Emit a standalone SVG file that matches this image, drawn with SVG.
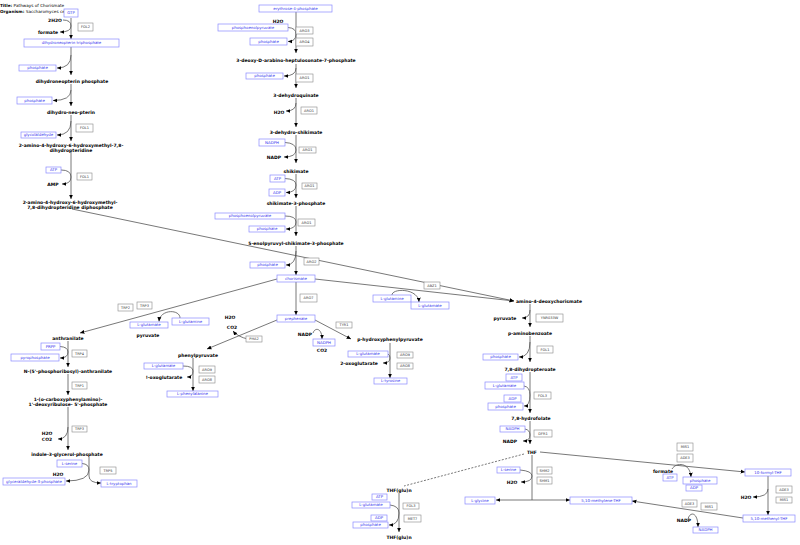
<svg xmlns="http://www.w3.org/2000/svg" width="800" height="545" viewBox="0 0 800 545">
<defs>
<marker id="a" viewBox="0 0 10 10" refX="10" refY="5" markerWidth="4.4" markerHeight="4.4" markerUnits="userSpaceOnUse" orient="auto"><path d="M0,0.5 L10,5 L0,9.5 z" fill="#000"/></marker>
<style>
.l{fill:none;stroke:#555;stroke-width:0.8;marker-end:url(#a)}
.n{fill:none;stroke:#555;stroke-width:0.8}
.d{fill:none;stroke:#555;stroke-width:0.8;stroke-dasharray:2,1.5}
.bx{fill:#fff;stroke:#8a8aff;stroke-width:0.7}
.bt{font-family:"DejaVu Sans",sans-serif;font-size:3.9px;fill:#3333ee;text-anchor:middle}
.ex{fill:#fff;stroke:#888;stroke-width:0.6}
.et{font-family:"DejaVu Sans",sans-serif;font-size:3.5px;fill:#333;text-anchor:middle}
.c{font-family:"DejaVu Sans",sans-serif;font-size:4.5px;font-weight:bold;fill:#000;text-anchor:middle}
.t{font-family:"DejaVu Sans",sans-serif;font-size:4.2px;fill:#000}
</style>
</defs>
<rect width="800" height="545" fill="#fff"/>
<g id="title">
<text class="t" x="0" y="6.5"><tspan font-weight="bold">Title:</tspan>   Pathways of Chorismate</text>
<text class="t" x="0" y="13"><tspan font-weight="bold">Organism:</tspan>   Saccharomyces ce</text>
</g>
<g id="connectors">
<path class="l" d="M71,18 V39"/>
<path class="l" d="M63,20 Q71,20 71,26 Q71,32 60,32"/>
<path class="l" d="M71,47 V75"/>
<path class="l" d="M71,55 Q71,68 57,68"/>
<path class="l" d="M71,84 V106"/>
<path class="l" d="M71,90 Q71,100.5 53,100.5"/>
<path class="l" d="M71,115 V141"/>
<path class="l" d="M71,121 Q71,135 57,135"/>
<path class="l" d="M71,152 V199"/>
<path class="l" d="M61,170 Q71,170 71,177 Q71,184 62,184"/>
<path class="l" d="M72,209 L514,301"/>
<path class="l" d="M296,12 V53"/>
<path class="l" d="M288,27.5 Q296,28 296,34 Q296,41.5 288,41.5"/>
<path class="l" d="M296,64 V88"/>
<path class="l" d="M296,68 Q296,76 284,76"/>
<path class="l" d="M296,98 V127"/>
<path class="l" d="M296,103 Q296,111 286,111"/>
<path class="l" d="M296,135 V163"/>
<path class="l" d="M285,142.5 Q296,143 296,150 Q296,157 284,157"/>
<path class="l" d="M296,174 V198"/>
<path class="l" d="M285,178.5 Q296,179 296,185 Q296,192.5 286,192.5"/>
<path class="l" d="M296,206 V236"/>
<path class="l" d="M285,216 Q296,216 296,222 Q296,229 286,229"/>
<path class="l" d="M296,246 V275"/>
<path class="l" d="M296,251 Q296,265 286,265"/>
<path class="l" d="M277,279 L80,333"/>
<path class="l" d="M315,279 L514,301"/>
<path class="l" d="M180,318 C180,309 160,309 159,321.5"/>
<path class="l" d="M296,282 V315"/>
<path class="l" d="M277,320 L207,349"/>
<path class="l" d="M248,339 Q238,337 233,331"/>
<path class="l" d="M315,320 L351,339"/>
<path class="l" d="M313,333 C315,327 322,328 322,339"/>
<path class="l" d="M193,358 V391"/>
<path class="l" d="M183,366 Q193,366 193,371 Q193,377 187,377"/>
<path class="l" d="M390,343 V378"/>
<path class="l" d="M388,354 Q390,355 390,358 Q390,363 383,363"/>
<path class="l" d="M392,295 C392,288 418,288 419,302"/>
<path class="l" d="M68,341 V367"/>
<path class="l" d="M60,346.5 Q68,347 68,352 Q68,358 60,358"/>
<path class="l" d="M68,374 V395"/>
<path class="l" d="M68,407 V450"/>
<path class="l" d="M68,427 Q68,439 58,439"/>
<path class="l" d="M89,457 V476 Q89,483 101,483"/>
<path class="l" d="M82,463.5 Q89,464 89,470 Q89,481 66,481"/>
<path class="l" d="M530,304 V327"/>
<path class="l" d="M530,310 Q530,318 522,318"/>
<path class="l" d="M530,336 V362"/>
<path class="l" d="M530,342 Q530,357 519,357"/>
<path class="l" d="M530,372 V413"/>
<path class="l" d="M524,386 Q530,387 530,395 Q530,406 524,406"/>
<path class="l" d="M530,421 V444"/>
<path class="l" d="M525,429 Q530,430 530,435 Q530,441 523,441"/>
<path class="n" d="M532,455 V500"/>
<path class="l" d="M532,500 H496"/>
<path class="l" d="M532,500 H570"/>
<path class="l" d="M520,470 Q532,471 532,476 Q532,482 521,482"/>
<path class="d" d="M524,454 L404,486"/>
<path class="l" d="M399,493 V532"/>
<path class="l" d="M390,505 Q399,506 399,513 Q399,525 389,525"/>
<path class="l" d="M540,452 L745,472"/>
<path class="l" d="M672,469 C676,462 690,462 691,477"/>
<path class="l" d="M768,476 V515"/>
<path class="l" d="M768,489 Q768,497 753,497"/>
<path class="l" d="M743,518 L632,501"/>
<path class="l" d="M688,519 C690,511 698,512 698,527"/>
</g>
<g id="n-GTP"><rect class="bx" x="64" y="9" width="14" height="8"/><text class="bt" x="71" y="14.4">GTP</text></g>
<g id="n-2H2O"><text class="c" x="55" y="21.5">2H2O</text></g>
<g id="e-FOL2"><rect class="ex" x="78" y="23" width="15" height="8"/><text class="et" x="85.5" y="28.2">FOL2</text></g>
<g id="n-formate1"><text class="c" x="48" y="33.5">formate</text></g>
<g id="n-dntp"><rect class="bx" x="24" y="39" width="95" height="8"/><text class="bt" x="71.5" y="44.4">dihydroneopterin triphosphate</text></g>
<g id="n-phosphate1"><rect class="bx" x="19" y="65" width="37" height="6"/><text class="bt" x="37.5" y="69.4">phosphate</text></g>
<g id="n-dnp"><text class="c" x="72" y="82.5">dihydroneopterin phosphate</text></g>
<g id="n-phosphate2"><rect class="bx" x="17" y="97" width="35" height="7"/><text class="bt" x="34.5" y="101.9">phosphate</text></g>
<g id="n-dhnp"><text class="c" x="71" y="113.5">dihydro-neo-pterin</text></g>
<g id="e-FOL1a"><rect class="ex" x="76" y="124" width="17" height="8"/><text class="et" x="84.5" y="129.2">FOL1</text></g>
<g id="n-glycolaldehyde"><rect class="bx" x="21" y="132" width="35" height="6"/><text class="bt" x="38.5" y="136.4">glycolaldehyde</text></g>
<g id="n-ahhd"><text class="c" x="71" y="146.5">2-amino-4-hydroxy-6-hydroxymethyl-7,8-</text><text class="c" x="71" y="151.5">dihydropteridine</text></g>
<g id="n-ATP1"><rect class="bx" x="46" y="167" width="15" height="6"/><text class="bt" x="53.5" y="171.4">ATP</text></g>
<g id="e-FOL1b"><rect class="ex" x="77" y="173" width="15" height="7"/><text class="et" x="84.5" y="177.7">FOL1</text></g>
<g id="n-AMP"><text class="c" x="53" y="185.5">AMP</text></g>
<g id="n-ahhdp"><text class="c" x="70" y="203.5">2-amino-4-hydroxy-6-hydroxymethyl-</text><text class="c" x="70" y="208.5">7,8-dihydropteridine diphosphate</text></g>
<g id="n-e4p"><rect class="bx" x="259" y="5" width="73" height="7"/><text class="bt" x="295.5" y="9.9">erythrose-4-phosphate</text></g>
<g id="n-H2O1"><text class="c" x="278" y="22.5">H2O</text></g>
<g id="n-pep1"><rect class="bx" x="218" y="24" width="70" height="7"/><text class="bt" x="253" y="28.9">phosphoenolpyruvate</text></g>
<g id="e-ARO3"><rect class="ex" x="296" y="27" width="17" height="7"/><text class="et" x="304.5" y="31.7">ARO3</text></g>
<g id="e-ARO4"><rect class="ex" x="296" y="38" width="17" height="8"/><text class="et" x="304.5" y="43.2">ARO4</text></g>
<g id="n-phosphate3"><rect class="bx" x="250" y="38" width="37" height="7"/><text class="bt" x="268.5" y="42.9">phosphate</text></g>
<g id="n-dahp"><text class="c" x="296" y="61.5">3-deoxy-D-arabino-heptulosonate-7-phosphate</text></g>
<g id="n-phosphate4"><rect class="bx" x="246" y="73" width="37" height="6"/><text class="bt" x="264.5" y="77.4">phosphate</text></g>
<g id="e-ARO1a"><rect class="ex" x="296" y="74" width="17" height="8"/><text class="et" x="304.5" y="79.2">ARO1</text></g>
<g id="n-dhq"><text class="c" x="296" y="96.5">3-dehydroquinate</text></g>
<g id="e-ARO1b"><rect class="ex" x="301" y="107" width="16" height="7"/><text class="et" x="309" y="111.7">ARO1</text></g>
<g id="n-H2O2"><text class="c" x="279" y="113.5">H2O</text></g>
<g id="n-dhs"><text class="c" x="296" y="133.5">3-dehydro-shikimate</text></g>
<g id="n-NADPH1"><rect class="bx" x="259" y="139" width="26" height="7"/><text class="bt" x="272" y="143.9">NADPH</text></g>
<g id="e-ARO1c"><rect class="ex" x="299" y="147" width="17" height="6"/><text class="et" x="307.5" y="151.2">ARO1</text></g>
<g id="n-NADP1"><text class="c" x="274" y="158.5">NADP</text></g>
<g id="n-shikimate"><text class="c" x="296" y="172.5">shikimate</text></g>
<g id="n-ATP2"><rect class="bx" x="270" y="175" width="15" height="7"/><text class="bt" x="277.5" y="179.9">ATP</text></g>
<g id="e-ARO1d"><rect class="ex" x="302" y="183" width="15" height="6"/><text class="et" x="309.5" y="187.2">ARO1</text></g>
<g id="n-ADP1"><rect class="bx" x="269" y="189" width="16" height="7"/><text class="bt" x="277" y="193.9">ADP</text></g>
<g id="n-s3p"><text class="c" x="296" y="204.5">shikimate-3-phosphate</text></g>
<g id="n-pep2"><rect class="bx" x="215" y="213" width="70" height="6"/><text class="bt" x="250" y="217.4">phosphoenolpyruvate</text></g>
<g id="e-ARO1e"><rect class="ex" x="298" y="219" width="17" height="7"/><text class="et" x="306.5" y="223.7">ARO1</text></g>
<g id="n-phosphate5"><rect class="bx" x="249" y="226" width="36" height="6"/><text class="bt" x="267" y="230.4">phosphate</text></g>
<g id="n-eps"><text class="c" x="296" y="244.5">5-enolpyruvyl-shikimate-3-phosphate</text></g>
<g id="e-ARO2"><rect class="ex" x="304" y="258" width="15" height="7"/><text class="et" x="311.5" y="262.7">ARO2</text></g>
<g id="n-phosphate6"><rect class="bx" x="250" y="262" width="35" height="6"/><text class="bt" x="267.5" y="266.4">phosphate</text></g>
<g id="n-chorismate"><rect class="bx" x="277" y="275" width="38" height="7"/><text class="bt" x="296" y="279.9">chorismate</text></g>
<g id="e-ABZ1"><rect class="ex" x="424" y="282" width="16" height="7"/><text class="et" x="432" y="286.7">ABZ1</text></g>
<g id="e-ARO7"><rect class="ex" x="300" y="294" width="17" height="8"/><text class="et" x="308.5" y="299.2">ARO7</text></g>
<g id="n-glutamine2"><rect class="bx" x="373" y="295" width="38" height="7"/><text class="bt" x="392" y="299.9">L-glutamine</text></g>
<g id="n-glutamate5"><rect class="bx" x="411" y="302" width="38" height="7"/><text class="bt" x="430" y="306.9">L-glutamate</text></g>
<g id="n-adc"><text class="c" x="516" y="302.5" style="text-anchor:start">amino-4-deoxychorismate</text></g>
<g id="e-TRP2"><rect class="ex" x="118" y="304" width="15" height="7"/><text class="et" x="125.5" y="308.7">TRP2</text></g>
<g id="e-TRP3a"><rect class="ex" x="137" y="302" width="15" height="7"/><text class="et" x="144.5" y="306.7">TRP3</text></g>
<g id="n-glutamine1"><rect class="bx" x="172" y="318" width="37" height="7"/><text class="bt" x="190.5" y="322.9">L-glutamine</text></g>
<g id="n-glutamate1"><rect class="bx" x="130" y="322" width="38" height="6"/><text class="bt" x="149" y="326.4">L-glutamate</text></g>
<g id="n-pyruvate1"><text class="c" x="148" y="336.5">pyruvate</text></g>
<g id="n-prephenate"><rect class="bx" x="277" y="315" width="38" height="7"/><text class="bt" x="296" y="319.9">prephenate</text></g>
<g id="n-H2O3"><text class="c" x="230" y="318.5">H2O</text></g>
<g id="n-CO2a"><text class="c" x="232" y="328.5">CO2</text></g>
<g id="e-TYR1"><rect class="ex" x="336" y="322" width="16" height="6"/><text class="et" x="344" y="326.2">TYR1</text></g>
<g id="n-NADP2"><text class="c" x="305" y="335.5">NADP</text></g>
<g id="e-PHA2"><rect class="ex" x="246" y="336" width="16" height="6"/><text class="et" x="254" y="340.2">PHA2</text></g>
<g id="n-NADPH2"><rect class="bx" x="313" y="339" width="22" height="7"/><text class="bt" x="324" y="343.9">NADPH</text></g>
<g id="n-hpp"><text class="c" x="390" y="340.5">p-hydroxyphenylpyruvate</text></g>
<g id="n-CO2b"><text class="c" x="322" y="351.5">CO2</text></g>
<g id="n-anthranilate"><text class="c" x="68" y="339.5">anthranilate</text></g>
<g id="n-PRPP"><rect class="bx" x="41" y="343" width="19" height="7"/><text class="bt" x="50.5" y="347.9">PRPP</text></g>
<g id="e-TRP4"><rect class="ex" x="72" y="350" width="15" height="7"/><text class="et" x="79.5" y="354.7">TRP4</text></g>
<g id="n-pyrophosphate"><rect class="bx" x="11" y="354" width="48" height="7"/><text class="bt" x="35" y="358.9">pyrophosphate</text></g>
<g id="n-pra"><text class="c" x="68" y="372.5">N-(5'-phosphoribosyl)-anthranilate</text></g>
<g id="e-TRP1"><rect class="ex" x="72" y="382" width="15" height="7"/><text class="et" x="79.5" y="386.7">TRP1</text></g>
<g id="n-cdrp"><text class="c" x="68" y="400.5">1-(o-carboxyphenylamino)-</text><text class="c" x="68" y="405.5">1'-deoxyribulose- 5'-phosphate</text></g>
<g id="e-TRP3b"><rect class="ex" x="72" y="426" width="15" height="6"/><text class="et" x="79.5" y="430.2">TRP3</text></g>
<g id="n-H2O4"><text class="c" x="47" y="434.5">H2O</text></g>
<g id="n-CO2c"><text class="c" x="47" y="440.5">CO2</text></g>
<g id="n-igp"><text class="c" x="67" y="455.5">indole-3-glycerol-phosphate</text></g>
<g id="n-serine1"><rect class="bx" x="57" y="460" width="25" height="7"/><text class="bt" x="69.5" y="464.9">L-serine</text></g>
<g id="e-TRP5"><rect class="ex" x="100" y="467" width="16" height="7"/><text class="et" x="108" y="471.7">TRP5</text></g>
<g id="n-H2O5"><text class="c" x="58" y="475.5">H2O</text></g>
<g id="n-g3p"><rect class="bx" x="3" y="478" width="62" height="7"/><text class="bt" x="34" y="482.9">glyceraldehyde-3-phosphate</text></g>
<g id="n-tryptophan"><rect class="bx" x="101" y="480" width="36" height="7"/><text class="bt" x="119" y="484.9">L-tryptophan</text></g>
<g id="n-phenylpyruvate"><text class="c" x="198" y="356.5">phenylpyruvate</text></g>
<g id="n-glutamate2"><rect class="bx" x="144" y="363" width="39" height="6"/><text class="bt" x="163.5" y="367.4">L-glutamate</text></g>
<g id="e-ARO9a"><rect class="ex" x="199" y="366" width="16" height="7"/><text class="et" x="207" y="370.7">ARO9</text></g>
<g id="e-ARO8a"><rect class="ex" x="199" y="376" width="16" height="7"/><text class="et" x="207" y="380.7">ARO8</text></g>
<g id="n-aog"><text class="c" x="164" y="378.5">!-oxoglutarate</text></g>
<g id="n-phenylalanine"><rect class="bx" x="167" y="391" width="51" height="6"/><text class="bt" x="192.5" y="395.4">L-phenylalanine</text></g>
<g id="n-glutamate3"><rect class="bx" x="348" y="351" width="40" height="6"/><text class="bt" x="368" y="355.4">L-glutamate</text></g>
<g id="e-ARO9b"><rect class="ex" x="397" y="352" width="16" height="6"/><text class="et" x="405" y="356.2">ARO9</text></g>
<g id="e-ARO8b"><rect class="ex" x="397" y="363" width="16" height="6"/><text class="et" x="405" y="367.2">ARO8</text></g>
<g id="n-2og"><text class="c" x="359" y="364.5">2-oxoglutarate</text></g>
<g id="n-tyrosine"><rect class="bx" x="374" y="378" width="33" height="6"/><text class="bt" x="390.5" y="382.4">L-tyrosine</text></g>
<g id="n-pyruvate2"><text class="c" x="505" y="319.5">pyruvate</text></g>
<g id="e-YNR033W"><rect class="ex" x="536" y="314" width="27" height="8"/><text class="et" x="549.5" y="319.2">YNR033W</text></g>
<g id="n-pab"><text class="c" x="530" y="334.5">p-aminobenzoate</text></g>
<g id="e-FOL1c"><rect class="ex" x="537" y="346" width="16" height="7"/><text class="et" x="545" y="350.7">FOL1</text></g>
<g id="n-phosphate7"><rect class="bx" x="483" y="354" width="35" height="6"/><text class="bt" x="500.5" y="358.4">phosphate</text></g>
<g id="n-dhpt"><text class="c" x="530" y="370.5">7,8-dihydropteroate</text></g>
<g id="n-ATP3"><rect class="bx" x="506" y="374" width="16" height="7"/><text class="bt" x="514" y="378.9">ATP</text></g>
<g id="n-glutamate4"><rect class="bx" x="485" y="382" width="39" height="7"/><text class="bt" x="504.5" y="386.9">L-glutamate</text></g>
<g id="e-FOL3a"><rect class="ex" x="534" y="392" width="17" height="7"/><text class="et" x="542.5" y="396.7">FOL3</text></g>
<g id="n-ADP2"><rect class="bx" x="504" y="395" width="17" height="7"/><text class="bt" x="512.5" y="399.9">ADP</text></g>
<g id="n-phosphate8"><rect class="bx" x="488" y="403" width="35" height="7"/><text class="bt" x="505.5" y="407.9">phosphate</text></g>
<g id="n-dhf"><text class="c" x="531" y="419.5">7,8-hydrofolate</text></g>
<g id="n-NADPH3"><rect class="bx" x="500" y="426" width="25" height="6"/><text class="bt" x="512.5" y="430.4">NADPH</text></g>
<g id="e-DFR1"><rect class="ex" x="534" y="430" width="18" height="7"/><text class="et" x="543" y="434.7">DFR1</text></g>
<g id="n-NADP3"><text class="c" x="510" y="442.5">NADP</text></g>
<g id="n-THF"><text class="c" x="532" y="453.5">THF</text></g>
<g id="n-serine2"><rect class="bx" x="497" y="467" width="23" height="6"/><text class="bt" x="508.5" y="471.4">L-serine</text></g>
<g id="e-SHM2"><rect class="ex" x="537" y="467" width="15" height="7"/><text class="et" x="544.5" y="471.7">SHM2</text></g>
<g id="e-SHM1"><rect class="ex" x="537" y="477" width="15" height="7"/><text class="et" x="544.5" y="481.7">SHM1</text></g>
<g id="n-H2O6"><text class="c" x="512" y="483.5">H2O</text></g>
<g id="n-glycine"><rect class="bx" x="465" y="497" width="30" height="7"/><text class="bt" x="480" y="501.9">L-glycine</text></g>
<g id="n-mlthf"><rect class="bx" x="570" y="497" width="62" height="7"/><text class="bt" x="601" y="501.9">5,10-methylene-THF</text></g>
<g id="n-thfglu1"><text class="c" x="399" y="491.5">THF(glu)n</text></g>
<g id="n-ATP4"><rect class="bx" x="372" y="494" width="15" height="6"/><text class="bt" x="379.5" y="498.4">ATP</text></g>
<g id="n-glutamate6"><rect class="bx" x="352" y="502" width="38" height="6"/><text class="bt" x="371" y="506.4">L-glutamate</text></g>
<g id="e-FOL3b"><rect class="ex" x="403" y="503" width="16" height="6"/><text class="et" x="411" y="507.2">FOL3</text></g>
<g id="n-ADP3"><rect class="bx" x="371" y="515" width="16" height="6"/><text class="bt" x="379" y="519.4">ADP</text></g>
<g id="e-MET7"><rect class="ex" x="404" y="515" width="17" height="7"/><text class="et" x="412.5" y="519.7">MET7</text></g>
<g id="n-phosphate9"><rect class="bx" x="353" y="522" width="35" height="6"/><text class="bt" x="370.5" y="526.4">phosphate</text></g>
<g id="n-thfglu2"><text class="c" x="399" y="538.5">THF(glu)n</text></g>
<g id="e-MIS1a"><rect class="ex" x="677" y="443" width="16" height="8"/><text class="et" x="685" y="448.2">MIS1</text></g>
<g id="e-ADE3a"><rect class="ex" x="677" y="454" width="16" height="8"/><text class="et" x="685" y="459.2">ADE3</text></g>
<g id="n-formate2"><text class="c" x="663" y="472.5">formate</text></g>
<g id="n-ATP5"><rect class="bx" x="663" y="474" width="14" height="7"/><text class="bt" x="670" y="478.9">ATP</text></g>
<g id="n-phosphate10"><rect class="bx" x="683" y="477" width="34" height="7"/><text class="bt" x="700" y="481.9">phosphate</text></g>
<g id="n-ADP4"><rect class="bx" x="686" y="485" width="16" height="6"/><text class="bt" x="694" y="489.4">ADP</text></g>
<g id="n-fthf"><rect class="bx" x="745" y="469" width="46" height="7"/><text class="bt" x="768" y="473.9">10-formyl-THF</text></g>
<g id="e-ADE3b"><rect class="ex" x="776" y="486" width="16" height="7"/><text class="et" x="784" y="490.7">ADE3</text></g>
<g id="e-MIS1b"><rect class="ex" x="776" y="497" width="16" height="6"/><text class="et" x="784" y="501.2">MIS1</text></g>
<g id="n-H2O7"><text class="c" x="746" y="498.5">H2O</text></g>
<g id="e-ADE3c"><rect class="ex" x="682" y="500" width="15" height="7"/><text class="et" x="689.5" y="504.7">ADE3</text></g>
<g id="e-MIS1c"><rect class="ex" x="701" y="503" width="16" height="7"/><text class="et" x="709" y="507.7">MIS1</text></g>
<g id="n-mnthf"><rect class="bx" x="743" y="515" width="52" height="7"/><text class="bt" x="769" y="519.9">5,10-methenyl-THF</text></g>
<g id="n-NADP4"><text class="c" x="684" y="521.5">NADP</text></g>
<g id="n-NADPH4"><rect class="bx" x="693" y="527" width="25" height="6"/><text class="bt" x="705.5" y="531.4">NADPH</text></g>
</svg>
